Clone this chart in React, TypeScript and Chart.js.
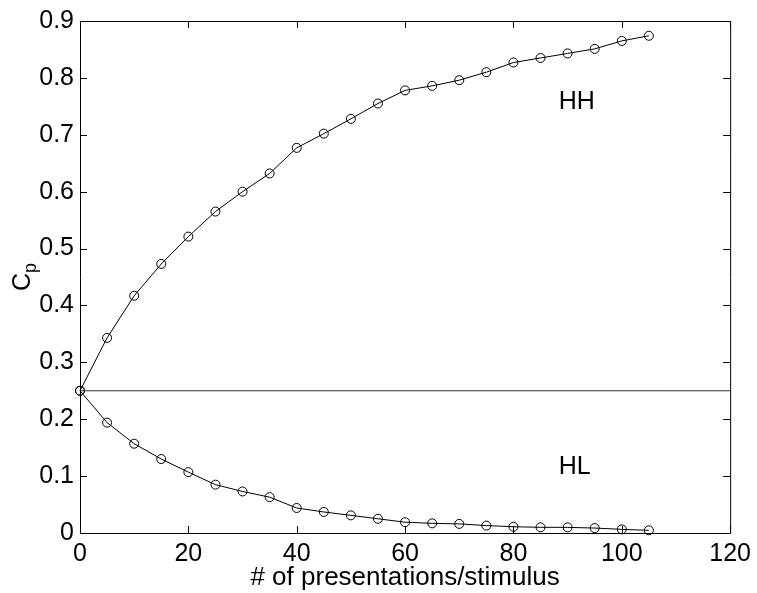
import React, { useEffect, useRef } from "react";
import { Chart, registerables } from "chart.js";

Chart.register(...registerables);

// Number of presentations per stimulus
const presentations = [0, 5, 10, 15, 20, 25, 30, 35, 40, 45, 50, 55, 60, 65, 70, 75, 80, 85, 90, 95, 100, 105];

// Proportion correct, C_p
const hhValues = [
  0.25, 0.343, 0.417, 0.473, 0.521, 0.565, 0.6, 0.632, 0.677, 0.702, 0.728,
  0.755, 0.778, 0.786, 0.796, 0.81, 0.827, 0.835, 0.843, 0.851, 0.865, 0.874,
];
const hlValues = [
  0.25, 0.194, 0.157, 0.13, 0.107, 0.085, 0.073, 0.063, 0.044, 0.037, 0.031,
  0.025, 0.019, 0.017, 0.016, 0.013, 0.011, 0.01, 0.0099, 0.0087, 0.0064, 0.0047,
];

// Chance level line
const chanceLevel = 0.25;
const chanceSpan = [0, 120];

const xTicks = [0, 20, 40, 60, 80, 100, 120];
const yTicks = [0, 0.1, 0.2, 0.3, 0.4, 0.5, 0.6, 0.7, 0.8, 0.9];

const curveLabels = [
  { text: "HH", x: 91.7, y: 0.757 },
  { text: "HL", x: 91.3, y: 0.115 },
];

const FONT = '"Liberation Sans", Arial, Helvetica, sans-serif';
const W = 757;
const H = 593;

// Box around the axes with inward tick marks on all four sides
const framePlugin = {
  id: "frame",
  afterDatasetsDraw(chart: any) {
    const { ctx, chartArea, scales } = chart;
    const { left, right, top, bottom } = chartArea;
    const len = 7;
    ctx.save();
    ctx.strokeStyle = "#000";
    ctx.lineWidth = 1;
    ctx.beginPath();
    ctx.rect(left + 0.5, top + 0.5, right - left, bottom - top);
    for (const v of xTicks) {
      const px = Math.round(scales.x.getPixelForValue(v)) + 0.5;
      ctx.moveTo(px, bottom);
      ctx.lineTo(px, bottom - len);
      ctx.moveTo(px, top);
      ctx.lineTo(px, top + len);
    }
    for (const v of yTicks) {
      const py = Math.round(scales.y.getPixelForValue(v)) + 0.5;
      ctx.moveTo(left, py);
      ctx.lineTo(left + len, py);
      ctx.moveTo(right, py);
      ctx.lineTo(right - len, py);
    }
    ctx.stroke();
    ctx.restore();
  },
};

// Curve names and the rotated C_p axis title
const textPlugin = {
  id: "texts",
  afterDraw(chart: any) {
    const { ctx, scales, chartArea } = chart;
    ctx.save();
    ctx.fillStyle = "#000";
    ctx.textAlign = "center";
    ctx.textBaseline = "middle";
    ctx.font = `25px ${FONT}`;
    for (const l of curveLabels) {
      ctx.fillText(l.text, scales.x.getPixelForValue(l.x), scales.y.getPixelForValue(l.y));
    }
    // y axis title: "C" with subscript "p", rotated
    const cy = (chartArea.top + chartArea.bottom) / 2;
    ctx.translate(30, cy);
    ctx.rotate(-Math.PI / 2);
    ctx.textAlign = "left";
    ctx.textBaseline = "alphabetic";
    ctx.font = `25px ${FONT}`;
    const cW = ctx.measureText("C").width;
    ctx.font = `18px ${FONT}`;
    const pW = ctx.measureText("p").width;
    const start = -(cW + pW) / 2;
    ctx.font = `25px ${FONT}`;
    ctx.fillText("C", start, 0);
    ctx.font = `18px ${FONT}`;
    ctx.fillText("p", start + cW, 6);
    ctx.restore();
  },
};

export default function App() {
  const ref = useRef<HTMLCanvasElement | null>(null);

  useEffect(() => {
    document.body.style.margin = "0";
    const canvas = ref.current;
    if (!canvas) return;
    const pointsHH = presentations.map((x, i) => ({ x, y: hhValues[i] }));
    const pointsHL = presentations.map((x, i) => ({ x, y: hlValues[i] }));
    const chance = chanceSpan.map((x) => ({ x, y: chanceLevel }));

    const chart = new Chart(canvas, {
      type: "line",
      data: {
        datasets: [
          {
            label: "chance",
            data: chance,
            borderColor: "#333",
            borderWidth: 1,
            pointRadius: 0,
            clip: false as any,
          },
          {
            label: "HH",
            data: pointsHH,
            borderColor: "#000",
            borderWidth: 1,
            pointRadius: 4.5,
            pointBorderWidth: 1,
            pointBorderColor: "#000",
            pointBackgroundColor: "rgba(0,0,0,0)",
            clip: false as any,
          },
          {
            label: "HL",
            data: pointsHL,
            borderColor: "#000",
            borderWidth: 1,
            pointRadius: 4.5,
            pointBorderWidth: 1,
            pointBorderColor: "#000",
            pointBackgroundColor: "rgba(0,0,0,0)",
            clip: false as any,
          },
        ],
      },
      options: {
        animation: false,
        responsive: false,
        devicePixelRatio: 1,
        layout: { padding: { top: 16, right: 23, left: 0, bottom: 0 } },
        plugins: {
          legend: { display: false },
          tooltip: { enabled: false },
        },
        scales: {
          x: {
            type: "linear",
            min: 0,
            max: 120,
            grid: { display: false, drawTicks: false },
            border: { display: false },
            afterBuildTicks: (s: any) => {
              s.ticks = xTicks.map((v) => ({ value: v }));
            },
            afterFit: (s: any) => {
              s.height = 60;
            },
            ticks: {
              padding: 6,
              color: "#000",
              font: { family: FONT, size: 25 },
              maxRotation: 0,
              callback: (v: any) => String(v),
            },
            title: {
              display: true,
              text: "# of presentations/stimulus",
              color: "#000",
              font: { family: FONT, size: 26 },
              padding: { top: 0, bottom: 0 },
            },
          },
          y: {
            type: "linear",
            min: 0,
            max: 0.9,
            grid: { display: false, drawTicks: false },
            border: { display: false },
            afterBuildTicks: (s: any) => {
              s.ticks = yTicks.map((v) => ({ value: v }));
            },
            afterFit: (s: any) => {
              s.width = 80;
            },
            ticks: {
              padding: 6,
              color: "#000",
              font: { family: FONT, size: 25 },
              callback: (v: any) => String(Number(Number(v).toFixed(1))),
            },
          },
        },
      },
      plugins: [framePlugin, textPlugin],
    });
    return () => chart.destroy();
  }, []);

  return (
    <canvas
      ref={ref}
      width={W}
      height={H}
      style={{ display: "block", width: W, height: H, background: "#fff" }}
    />
  );
}
